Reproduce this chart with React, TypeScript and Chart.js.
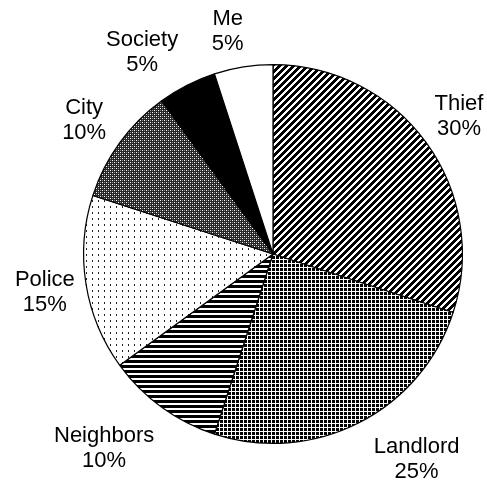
import React, { useEffect, useRef } from "react";
import { Chart, registerables } from "chart.js";

Chart.register(...registerables);

const categories = ["Thief", "Landlord", "Neighbors", "Police", "City", "Society", "Me"];
const shares = [30, 25, 10, 15, 10, 5, 5];
const percentLabels = ["30%", "25%", "10%", "15%", "10%", "5%", "5%"];
const patternKinds = ["diag", "grid", "hstripe", "dots", "dense", "solid", "blank"];

// label layout: angle offset (deg, clockwise) from slice middle and extra distance beyond the rim
const labelAngleOffset = [-0.5, -8, 5, -0.6, -0.7, -6, -2.5];
const labelExtra = [42, 61, 68, 42, 42, 51, 38];

function makePattern(kind: string): CanvasPattern | string {
  if (kind === "solid") return "#000000";
  if (kind === "blank") return "#ffffff";
  const c = document.createElement("canvas");
  const ctx = c.getContext("2d")!;
  if (kind === "diag") {
    const s = 7;
    c.width = s; c.height = s;
    ctx.fillStyle = "#fff"; ctx.fillRect(0, 0, s, s);
    ctx.fillStyle = "#000";
    for (let x = 0; x < s; x++) {
      for (let y = 0; y < s; y++) {
        if ((x + y) % s < 4) ctx.fillRect(x, y, 1, 1);
      }
    }
  } else if (kind === "grid") {
    const s = 4;
    c.width = s; c.height = s;
    ctx.fillStyle = "#000"; ctx.fillRect(0, 0, s, s);
    ctx.fillStyle = "#fff"; ctx.fillRect(3, 0, 1, 4); ctx.fillRect(0, 3, 4, 1);
  } else if (kind === "hstripe") {
    c.width = 4; c.height = 5;
    ctx.fillStyle = "#fff"; ctx.fillRect(0, 0, 4, 5);
    ctx.fillStyle = "#000"; ctx.fillRect(0, 0, 4, 3);
  } else if (kind === "dots") {
    c.width = 6; c.height = 6;
    ctx.fillStyle = "#fff"; ctx.fillRect(0, 0, 6, 6);
    ctx.fillStyle = "#222"; ctx.fillRect(2, 2, 1, 2);
  } else if (kind === "dense") {
    c.width = 4; c.height = 4;
    ctx.fillStyle = "#262626"; ctx.fillRect(0, 0, 4, 4);
    ctx.fillStyle = "#ffffff"; ctx.fillRect(0, 0, 1, 1); ctx.fillRect(2, 2, 1, 1);
    ctx.fillStyle = "#8a8a8a"; ctx.fillRect(0, 2, 1, 1); ctx.fillRect(2, 0, 1, 1);
  }
  return ctx.createPattern(c, "repeat")!;
}

const sliceLabels = {
  id: "sliceLabels",
  afterDatasetsDraw(chart: any) {
    const ctx = chart.ctx;
    const meta = chart.getDatasetMeta(0);
    ctx.save();
    ctx.fillStyle = "#000";
    ctx.font = '22px "Liberation Sans", Arial, sans-serif';
    ctx.textAlign = "center";
    ctx.textBaseline = "middle";
    meta.data.forEach((arc: any, i: number) => {
      const p = arc.getProps(["x", "y", "startAngle", "endAngle", "outerRadius"], true);
      const a = (p.startAngle + p.endAngle) / 2 + (labelAngleOffset[i] * Math.PI) / 180;
      const d = p.outerRadius + labelExtra[i];
      const lx = p.x + d * Math.cos(a);
      const ly = p.y + d * Math.sin(a);
      ctx.fillText(categories[i], lx, ly - 12.5);
      ctx.fillText(percentLabels[i], lx, ly + 12.5);
    });
    ctx.restore();
  },
};

export default function App() {
  const ref = useRef<HTMLCanvasElement | null>(null);
  useEffect(() => {
    if (!ref.current) return;
    const chart = new Chart(ref.current, {
      type: "pie",
      data: {
        labels: categories,
        datasets: [
          {
            data: shares,
            backgroundColor: patternKinds.map(makePattern) as any,
            borderColor: "#000",
            borderWidth: 1.2,
          },
        ],
      },
      options: {
        responsive: false,
        animation: false,
        layout: { padding: { left: 83, right: 24, top: 64, bottom: 41 } },
        plugins: {
          legend: { display: false },
          tooltip: { enabled: false },
        },
      },
      plugins: [sliceLabels],
    });
    return () => chart.destroy();
  }, []);
  return (
    <div style={{ position: "absolute", left: 0, top: 0, width: 487, height: 485, background: "#fff" }}>
      <canvas ref={ref} width={487} height={485} style={{ width: 487, height: 485, display: "block" }} />
    </div>
  );
}
